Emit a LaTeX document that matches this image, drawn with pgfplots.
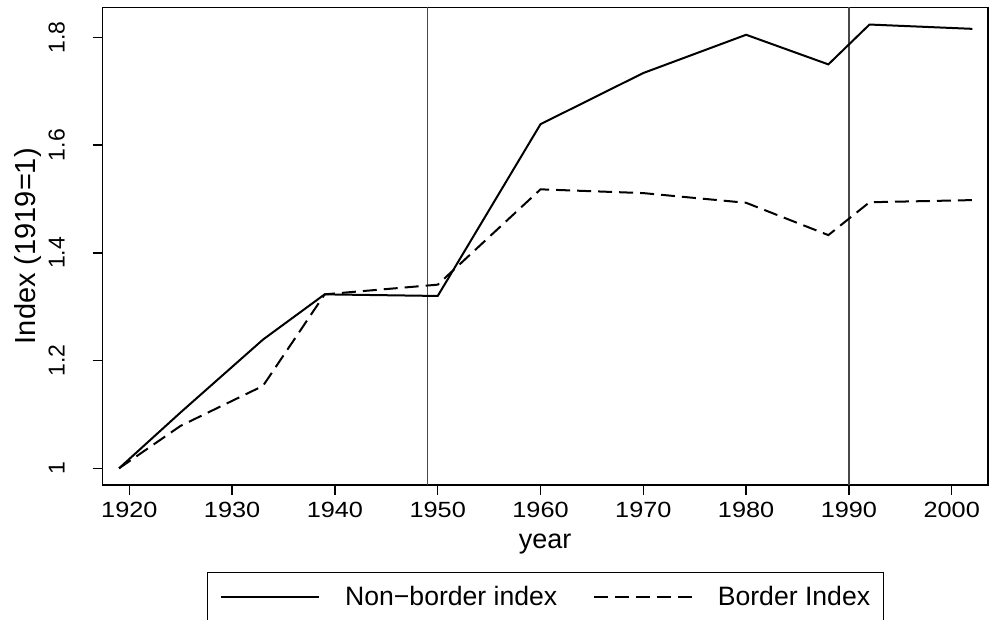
\documentclass[border=0pt]{standalone}
\usepackage{fontspec}
\setmainfont{Liberation Sans}
\newfontfamily\xtickfont{Liberation Sans}[FakeStretch=1.15]
\usepackage{pgfplots}
\pgfplotsset{compat=1.18}
\usetikzlibrary{calc}
\begin{document}
\begin{tikzpicture}
\begin{axis}[
  scale only axis,
  width=442.85pt, height=238.85pt,
  at={(0,0)}, anchor=south west,
  xmin=1917.37, xmax=2003.53,
  ymin=0.969, ymax=1.856,
  xtick={1920,1930,1940,1950,1960,1970,1980,1990,2000},
  xticklabels={1920,1930,1940,1950,1960,1970,1980,1990,2000},
  ytick={1,1.2,1.4,1.6,1.8},
  yticklabels={1,1.2,1.4,1.6,1.8},
  /pgf/number format/assume math mode=true,
  xtick pos=bottom, ytick pos=left,
  tick align=outside,
  major tick length=4.8pt,
  tick style={black, line width=0.7pt},
  axis line style={black, line width=0.8pt},
  xticklabel style={font=\xtickfont\fontsize{11}{13}\selectfont},
  yticklabel style={xshift=-14pt, font=\fontsize{11.5}{13}\selectfont, rotate=90, anchor=base},
  xlabel={year},
  ylabel={Index (1919=1)},
  every axis x label/.style={at={(axis description cs:0.5,0)}, anchor=base, yshift=-31.5pt, font=\fontsize{13.5}{16}\selectfont},
  every axis y label/.style={at={(axis description cs:-0.0755,0.5)}, rotate=90, anchor=base, font=\fontsize{14.5}{17}\selectfont},
  legend columns=2,
  legend image code/.code={\draw[#1] (0pt,0pt) -- (49pt,0pt);},
  legend style={at={(0.5,-0.1815)}, anchor=north, draw=black, line width=0.6pt,
    font=\fontsize{13.3}{16}\selectfont,
    inner xsep=6.5pt, inner ysep=7pt,
    nodes={inner sep=0pt},
    /tikz/every odd column/.append style={column sep=12.5pt},
    /tikz/every even column/.append style={column sep=17.75pt}},
]
\addplot[black!72, line width=0.9pt, forget plot] coordinates {(1949,0.969) (1949,1.856)};
\addplot[black!72, line width=0.9pt, forget plot] coordinates {(1990,0.969) (1990,1.856)};
\addplot[black, line width=1pt, line join=miter] coordinates {
(1919,1.000) (1925,1.104) (1933,1.239) (1939,1.323) (1950,1.320) (1960,1.639)
(1970,1.734) (1980,1.805) (1988,1.750) (1992,1.824) (2002,1.816)};
\addlegendentry{Non\textminus border index}
\addplot[black, line width=1pt, dash pattern=on 7pt off 3.5pt] coordinates {
(1919,1.000) (1925,1.079) (1933,1.153) (1939,1.323) (1950,1.341) (1960,1.518)
(1970,1.511) (1980,1.493) (1988,1.433) (1992,1.494) (2002,1.498)};
\addlegendentry{Border Index}
\end{axis}
\pgfresetboundingbox
\path[use as bounding box] (-51.15pt,-67.5pt) rectangle (443.35pt,242.5pt);
\end{tikzpicture}
\end{document}
